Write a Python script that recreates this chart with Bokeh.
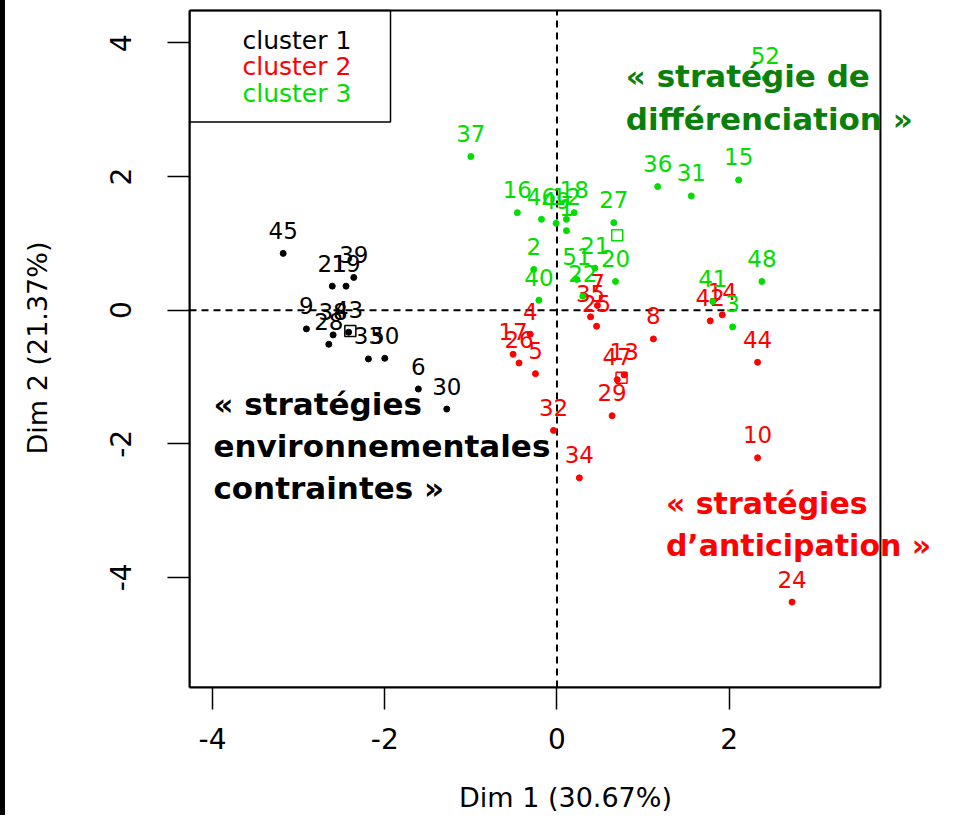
from bokeh.plotting import figure
from bokeh.models import Range1d, FixedTicker, Label, BoxAnnotation, ColumnDataSource
from bokeh.core.properties import value
from bokeh.embed import file_html
from bokeh.resources import INLINE

# ---------------- data ----------------
c1_ids = ["45", "21", "19", "39", "9", "38", "28", "43", "33", "50", "6", "30"]
c1_x = [-3.18, -2.61, -2.45, -2.36, -2.91, -2.60, -2.65, -2.42, -2.19, -2.00, -1.61, -1.28]
c1_y = [0.85, 0.36, 0.36, 0.49, -0.28, -0.37, -0.51, -0.33, -0.73, -0.72, -1.18, -1.48]

c2_ids = ["4", "17", "26", "5", "7", "35", "25", "8", "42", "14", "44", "10", "24",
          "47", "13", "29", "32", "34"]
c2_x = [-0.31, -0.51, -0.44, -0.25, 0.47, 0.39, 0.46, 1.12, 1.78, 1.92, 2.33, 2.33, 2.73,
        0.70, 0.78, 0.64, -0.04, 0.26]
c2_y = [-0.36, -0.66, -0.79, -0.95, 0.07, -0.10, -0.24, -0.43, -0.16, -0.07, -0.78, -2.21, -4.37,
        -1.04, -0.97, -1.58, -1.80, -2.51]

c3_ids = ["52", "37", "36", "31", "15", "27", "16", "46", "49", "12", "18", "1", "2", "40",
          "21", "51", "22", "20", "41", "48", "3"]
c3_x = [2.42, -1.00, 1.17, 1.56, 2.11, 0.66, -0.46, -0.18, -0.01, 0.11, 0.20, 0.11, -0.27, -0.21,
        0.44, 0.23, 0.30, 0.68, 1.81, 2.38, 2.04]
c3_y = [3.47, 2.30, 1.85, 1.71, 1.95, 1.31, 1.46, 1.36, 1.30, 1.36, 1.46, 1.19, 0.61, 0.15,
        0.63, 0.46, 0.21, 0.43, 0.13, 0.43, -0.25]

center_x = [-2.40, 0.75, 0.70]
center_y = [-0.31, -1.01, 1.12]

cluster_names = ["cluster 1", "cluster 2", "cluster 3"]
cluster_colors = ["#000000", "#ff0000", "#00dd00"]

x_ticks = [-4, -2, 0, 2]
y_ticks = [-4, -2, 0, 2, 4]
x_title = "Dim 1 (30.67%)"
y_title = "Dim 2 (21.37%)"

annot_black = ["« stratégies", "environnementales", "contraintes »"]
annot_green = ["« stratégie de", "différenciation »"]
annot_red = ["« stratégies", "d’anticipation »"]

# ---------------- layout constants ----------------
PX_X = 86.1          # pixels per x unit
PX_Y = 67.1          # pixels per y unit
BX0, BX1 = -4.268, 3.757   # plot box extent
BY0, BY1 = -5.648, 4.486
EDGE = 5             # thick page edge line on the left
W, H = 936, 815
LEFT, TOP, BOTTOM = 189 - EDGE, 8, 125
FX1 = BX0 + (W - LEFT) / PX_X          # frame extends to the right edge (for overflowing text)
FY1 = BY1 + 2 / PX_Y
FONT = "DejaVu Sans"

p = figure(width=W, height=H, x_range=Range1d(BX0, FX1), y_range=Range1d(BY0, FY1),
           output_backend="svg", toolbar_location=None,
           min_border_left=LEFT, min_border_right=0, min_border_top=TOP, min_border_bottom=BOTTOM,
           styles={"border-left": f"{EDGE}px solid black"})
p.xgrid.visible = False
p.ygrid.visible = False
p.outline_line_color = None
p.background_fill_color = "white"
p.border_fill_color = "white"

for ax in (p.xaxis[0], p.yaxis[0]):
    ax.axis_line_color = "black"
    ax.axis_line_width = 2
    ax.major_tick_out = 22
    ax.major_tick_in = 0
    ax.major_tick_line_width = 1.5
    ax.major_tick_line_color = "black"
    ax.minor_tick_line_color = None
    ax.major_label_text_font = FONT
    ax.major_label_text_font_size = "28px"
    ax.major_label_text_color = "black"
    ax.axis_label_text_font = FONT
    ax.axis_label_text_font_size = "27px"
    ax.axis_label_text_font_style = "normal"
    ax.axis_label_text_color = "black"

p.xaxis.bounds = (BX0, BX1)
p.yaxis.bounds = (BY0, BY1)
p.xaxis.ticker = FixedTicker(ticks=x_ticks)
p.yaxis.ticker = FixedTicker(ticks=y_ticks)
p.xaxis.major_label_overrides = {t: str(t) for t in x_ticks}
p.yaxis.major_label_overrides = {t: str(t) for t in y_ticks}
p.xaxis.major_label_standoff = 18
p.yaxis.major_label_standoff = 36
p.yaxis.major_label_orientation = "vertical"
p.xaxis.axis_label = x_title
p.yaxis.axis_label = y_title
p.xaxis.axis_label_standoff = 30
p.yaxis.axis_label_standoff = 55

# plot box (top and right edges)
p.add_layout(BoxAnnotation(left=BX0, right=BX1, top=BY1, bottom=BY0, fill_color=None,
                           line_color="black", line_width=2, line_alpha=1.0))

# dashed reference lines at 0
p.segment(x0=[0], x1=[0], y0=[BY0], y1=[BY1], line_color="black", line_width=2, line_dash="7 5")
p.segment(x0=[BX0], x1=[BX1], y0=[0], y1=[0], line_color="black", line_width=2, line_dash="7 5")

clusters = [(c1_ids, c1_x, c1_y), (c2_ids, c2_x, c2_y), (c3_ids, c3_x, c3_y)]
for (ids, xs, ys), col in zip(clusters, cluster_colors):
    src = ColumnDataSource(dict(x=xs, y=ys, t=ids))
    p.scatter("x", "y", source=src, size=6, color=col, marker="circle")
    p.text("x", "y", text="t", source=src, text_align="center", text_baseline="middle",
           y_offset=-23, text_font=value(FONT), text_font_size="23px", text_color=col)

p.scatter(center_x, center_y, marker="square", size=11, fill_color=None,
          line_color=cluster_colors, line_width=1.5)

# legend (text only, framed)
p.add_layout(BoxAnnotation(left=BX0, right=BX0 + 201 / PX_X, top=BY1, bottom=BY1 - 112 / PX_Y,
                           fill_color=None, line_color="black", line_width=1.5, line_alpha=1.0))
for i, (name, col) in enumerate(zip(cluster_names, cluster_colors)):
    p.add_layout(Label(x=BX0 + 53 / PX_X, y=BY1 - (30 + 26.5 * i) / PX_Y, text=name,
                       text_color=col, text_font=FONT, text_font_size="25px",
                       text_align="left", text_baseline="middle"))

def add_block(lines, x, y, col, size="31px", dy=42.5 / PX_Y):
    for k, t in enumerate(lines):
        p.add_layout(Label(x=x, y=y - k * dy, text=t, text_color=col, text_font=FONT,
                           text_font_size=size, text_font_style="bold",
                           text_align="left", text_baseline="middle"))

add_block(annot_black, -3.99, -1.40, "#000000")
add_block(annot_green, 0.80, 3.50, "#0a800a")
add_block(annot_red, 1.265, -2.89, "#ff0000", size="30px")

open("out.html", "w").write(file_html(p, INLINE))
